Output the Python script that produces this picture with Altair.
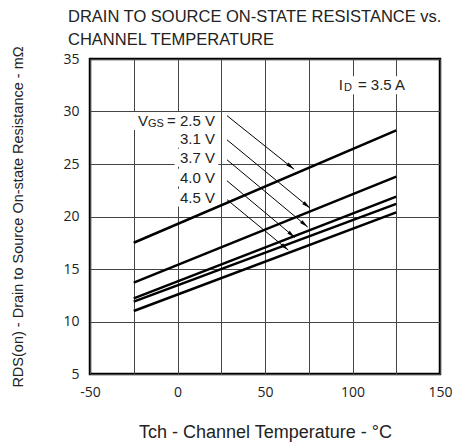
import math
import altair as alt
import pandas as pd

# ---- data ----
temps = [-25, 125]
vgs = ["2.5 V", "3.1 V", "3.7 V", "4.0 V", "4.5 V"]
r_start = [17.5, 13.7, 12.2, 11.9, 11.0]
r_end = [28.2, 23.8, 21.9, 21.2, 20.4]

# curve labels (right edge of each label, data coordinates)
label_text = ["= 2.5 V", "3.1 V", "3.7 V", "4.0 V", "4.5 V"]
label_x = [21.4, 21.4, 21.4, 21.4, 21.4]
label_y = [29.1, 27.4, 25.6, 23.7, 21.8]
label_left = [-25.4, -1.6, -1.6, -1.6, -1.6]
label_right = [23.3, 23.3, 23.3, 23.3, 23.3]
arrow_x1 = [28.3, 28.3, 28.3, 28.3, 28.3]
arrow_y1 = [29.6, 27.3, 25.4, 23.4, 21.6]
arrow_x2 = [66.6, 75.7, 74.4, 67.1, 63.3]
arrow_y2 = [24.5, 20.8, 19.0, 18.0, 16.8]

id_text = ["= 3.5 A"]
id_x = [130.0]
id_y = [32.5]
id_left = [91.0]
id_right = [132.0]

x_ticks = [-50, -25, 0, 25, 50, 75, 100, 125, 150]
y_ticks = [5, 10, 15, 20, 25, 30, 35]

W, H = 350, 315
XD = [-50, 150]
YD = [5, 35]
FONT = "Liberation Sans"

# ---- tables ----
rows = []
for v, a, b in zip(vgs, r_start, r_end):
    rows.append({"vgs": v, "t": temps[0], "r": a})
    rows.append({"vgs": v, "t": temps[1], "r": b})
curves = pd.DataFrame(rows)

px_x = W / (XD[1] - XD[0])
px_y = H / (YD[1] - YD[0])
angles = []
for x1, y1, x2, y2 in zip(arrow_x1, arrow_y1, arrow_x2, arrow_y2):
    dx = (x2 - x1) * px_x
    dy = -(y2 - y1) * px_y
    angles.append(math.degrees(math.atan2(dx, -dy)) % 360)
arrows = pd.DataFrame({"x1": arrow_x1, "y1": arrow_y1, "x2": arrow_x2,
                       "y2": arrow_y2, "ang": angles})
labels = pd.DataFrame({"txt": label_text, "x": label_x, "y": label_y})
vgs_main = pd.DataFrame({"txt": ["V"], "x": label_x[:1], "y": label_y[:1]})
vgs_sub = pd.DataFrame({"txt": ["GS"], "x": label_x[:1], "y": label_y[:1]})
id_main = pd.DataFrame({"txt": ["I"], "x": id_x, "y": id_y})
id_sub = pd.DataFrame({"txt": ["D"], "x": id_x, "y": id_y})
idlab = pd.DataFrame({"txt": id_text, "x": id_x, "y": id_y})

half = 0.85  # half box height in data units
boxes = pd.DataFrame({
    "x1": label_left + id_left,
    "x2": label_right + id_right,
    "y1": [v - half for v in label_y + id_y],
    "y2": [v + half for v in label_y + id_y],
})

xs = alt.Scale(domain=XD, nice=False, zero=False)
ys = alt.Scale(domain=YD, nice=False, zero=False)

xaxis = alt.Axis(values=x_ticks, ticks=False, domain=False, labelFlush=False,
                 labelExpr="datum.value % 50 == 0 ? replace(datum.label, '\u2212', '-') : ''",
                 title="Tch - Channel Temperature - \u00b0C", zindex=0,
                 titleX=W / 2, titleY=58, titleBaseline="middle", titleFontSize=18,
                 labelPadding=11, gridColor="#444", gridWidth=1, gridOpacity=1)
yaxis = alt.Axis(values=y_ticks, ticks=False, domain=False, labelFlush=False,
                 title="RDS(on) - Drain to Source On-state Resistance - m\u03a9",
                 titleX=-72, titleY=H / 2, titleAngle=-90, titleAlign="center",
                 titleBaseline="middle", titleFontSize=14.5, zindex=0,
                 labelPadding=11, gridColor="#444", gridWidth=1, gridOpacity=1)

lines = alt.Chart(curves).mark_line(color="black", strokeWidth=2.5).encode(
    x=alt.X("t:Q", scale=xs, axis=xaxis),
    y=alt.Y("r:Q", scale=ys, axis=yaxis),
    detail="vgs:N",
)

backs = alt.Chart(boxes).mark_rect(color="white", opacity=1).encode(
    x=alt.X("x1:Q", scale=xs), x2="x2:Q",
    y=alt.Y("y1:Q", scale=ys), y2="y2:Q",
)

rules = alt.Chart(arrows).mark_rule(color="black", strokeWidth=1).encode(
    x=alt.X("x1:Q", scale=xs), y=alt.Y("y1:Q", scale=ys),
    x2="x2:Q", y2="y2:Q",
)
heads = alt.Chart(arrows).mark_point(
    shape="M0,0L-0.45,2L0.45,2Z", filled=True, color="black", opacity=1,
    size=70, strokeWidth=0.5,
).encode(
    x=alt.X("x2:Q", scale=xs), y=alt.Y("y2:Q", scale=ys),
    angle=alt.Angle("ang:Q", scale=None),
)


def seg(df, size, dx=0, dy=0):
    return alt.Chart(df).mark_text(
        align="right", baseline="middle", font=FONT, fontSize=size,
        dx=dx, dy=dy, color="#222",
    ).encode(x=alt.X("x:Q", scale=xs), y=alt.Y("y:Q", scale=ys), text="txt:N")


texts = [
    seg(labels, 15),
    seg(vgs_sub, 11, -51, 3),
    seg(vgs_main, 15, -67),
    seg(idlab, 15),
    seg(id_sub, 11, -53, 3),
    seg(id_main, 15, -62),
]

chart = alt.layer(backs, lines, rules, heads, *texts).properties(
    width=W, height=H,
    padding={"left": 82, "top": 51, "right": 15, "bottom": 70},
    autosize=alt.AutoSizeParams(type="none"),
    title=alt.TitleParams(
        text=["DRAIN TO SOURCE ON-STATE RESISTANCE vs.", "CHANNEL TEMPERATURE"],
        anchor="start", frame="group", dx=-22, dy=15, offset=12,
        font=FONT, fontSize=16.5, fontWeight="normal", color="#222", lineHeight=23,
    ),
).configure_view(
    stroke="black", strokeWidth=2.5,
).configure_axis(
    labelFont="Open Sans", labelFontSize=14, labelColor="#222",
    titleFont=FONT, titleFontSize=15, titleFontWeight="normal", titleColor="#222",
)

chart.save("out.html", embed_options={"renderer": "svg", "actions": False})
